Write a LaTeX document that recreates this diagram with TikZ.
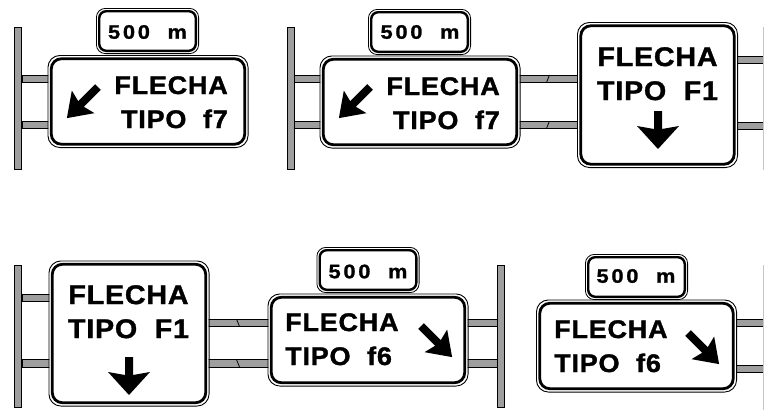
\documentclass[tikz,border=0pt]{standalone}
\usepackage{fontspec}
\newfontfamily\signfont[LetterSpace=3, FakeStretch=1.06, FakeBold=1.3, UprightFont={* Bold}]{Liberation Sans}
\newfontfamily\platefont[LetterSpace=14, FakeStretch=1.12, FakeBold=1.2, UprightFont={* Bold}]{Liberation Sans}
\usetikzlibrary{backgrounds}
\definecolor{acero}{RGB}{158,158,158}
\tikzset{
	cartel/.style={shape=rectangle, draw, fill=white, line width=2.8pt, rounded corners=10pt, inner sep=0pt, preaction={draw=white, line width=6pt}},
	marco/.style={draw, line width=0.9pt, rounded corners=12pt},
	placa/.style={shape=rectangle, draw, fill=white, line width=2.4pt, rounded corners=7pt, inner sep=0pt, minimum width=96.6pt, minimum height=39.6pt, preaction={draw=white, line width=5pt}},
	marcoplaca/.style={draw, line width=0.8pt, rounded corners=9pt},
	poste/.style={shape=rectangle, draw, fill=acero, line width=0.8pt, inner sep=0pt, minimum width=7.2pt, minimum height=142.2pt},
	viga/.style={draw, fill=acero, line width=0.8pt},
	texto/.style={font=\signfont\fontsize{25.5pt}{34pt}\selectfont, inner sep=0pt},
	textoF/.style={font=\signfont\fontsize{27pt}{34pt}\selectfont, inner sep=0pt},
	rotulo/.style={font=\platefont\fontsize{19.5pt}{20pt}\selectfont, inner sep=0pt},
	flechaD/.pic={\fill (-4,0) -- (4,0) -- (4,24) -- (16,21) -- (0,44) -- (-16,21) -- (-4,24) -- cycle;},
	flechaV/.pic={\fill (-4,0) -- (4,0) -- (4,18) -- (21,15) -- (0,38) -- (-21,15) -- (-4,18) -- cycle;}
}
\begin{document}
\begin{tikzpicture}[x=1pt, y=-1pt]
	\useasboundingbox (0,0) rectangle (765,410);
	% Posts:
	\node[poste] (poste1) at (18, 98.5){};
	\node[poste] (poste2) at (290.5, 98.5){};
	\node[poste] (poste4) at (18, 336.5){};
	\node[poste] (poste5) at (501, 336.5){};
	\coordinate (borde) at (763, 0);
	\draw[gray!45, line width=1pt] (763.5, 27) -- (763.5, 170);
	\draw[gray!45, line width=1pt] (763.5, 265) -- (763.5, 410);
	% Distance plates:
	\node[placa] (placa1) at (147.5, 31){};
	\node[placa] (placa2) at (419.5, 32){};
	\node[placa] (placa5) at (368, 270){};
	\node[placa] (placa6) at (636.5, 277){};
	\foreach \i in {1,2,5,6}
		\draw[marcoplaca] ([shift={(-1.6pt,1.6pt)}]placa\i.north west) rectangle ([shift={(1.6pt,-1.6pt)}]placa\i.south east);
	\node[rotulo] (rot1) at (147.5, 32){500~~m};
	\node[rotulo] (rot2) at (420, 32){500~~m};
	\node[rotulo] (rot5) at (368, 271.5){500~~m};
	\node[rotulo] (rot6) at (636, 276){500~~m};
	% Signs:
	\node[cartel, minimum width=193.4pt, minimum height=85.4pt] (cartel1) at (148, 101.5){};
	\node[cartel, minimum width=193.4pt, minimum height=85.4pt] (cartel2) at (420, 102){};
	\node[cartel, minimum width=153.4pt, minimum height=138.4pt] (cartel3) at (657.5, 95){};
	\node[cartel, minimum width=153.4pt, minimum height=138.4pt] (cartel4) at (129, 333.5){};
	\node[cartel, minimum width=193.4pt, minimum height=85.4pt] (cartel5) at (368, 340){};
	\node[cartel, minimum width=193.4pt, minimum height=85.4pt] (cartel6) at (636.5, 346){};
	\foreach \i in {1,...,6}
		\draw[marco] ([shift={(-1.95pt,1.95pt)}]cartel\i.north west) rectangle ([shift={(1.95pt,-1.95pt)}]cartel\i.south east);
	% Texts and arrows:
	\node[texto, align=right, anchor=north east] (txt1) at (228, 76){FLECHA\\TIPO~~f7};
	\node[texto, align=right, anchor=north east] (txt2) at (500, 77){FLECHA\\TIPO~~f7};
	\node[textoF, align=center, anchor=north] (txt3) at (657.5, 47){FLECHA\\TIPO~~F1};
	\node[textoF, align=center, anchor=north] (txt4) at (128.5, 285){FLECHA\\TIPO~~F1};
	\node[texto, align=left, anchor=north west] (txt5) at (285, 313){FLECHA\\TIPO~~f6};
	\node[texto, align=left, anchor=north west] (txt6) at (554, 320){FLECHA\\TIPO~~f6};
	\pic[rotate=-45] at (98, 87){flechaD};
	\pic[rotate=-45] at (370, 87){flechaD};
	\pic at (658, 111){flechaV};
	\pic at (129, 357){flechaV};
	\pic[rotate=45] at (421, 326){flechaD};
	\pic[rotate=45] at (688, 333){flechaD};
	% Beams:
	\begin{scope}[on background layer]
		\draw[viga] (poste1.east |- 0,75) rectangle (cartel1.west |- 0,82.5);
		\draw[viga] (poste1.east |- 0,121) rectangle (cartel1.west |- 0,128.5);
		\draw[viga] (poste2.east |- 0,75) rectangle (cartel2.west |- 0,82.5);
		\draw[viga] (poste2.east |- 0,121) rectangle (cartel2.west |- 0,128.5);
		\draw[viga] (cartel2.east |- 0,75) rectangle (cartel3.west |- 0,82.5);
		\draw[viga] (cartel2.east |- 0,121) rectangle (cartel3.west |- 0,128.5);
		\draw[viga] (cartel3.east |- 0,56) rectangle (borde |- 0,63.5);
		\draw[viga] (cartel3.east |- 0,122) rectangle (borde |- 0,129.5);
		\draw[viga] (poste4.east |- 0,294) rectangle (cartel4.west |- 0,301.5);
		\draw[viga] (poste4.east |- 0,359.5) rectangle (cartel4.west |- 0,367);
		\draw[viga] (cartel4.east |- 0,319) rectangle (cartel5.west |- 0,326.5);
		\draw[viga] (cartel4.east |- 0,359.5) rectangle (cartel5.west |- 0,367);
		\draw[viga] (cartel5.east |- 0,319) rectangle (poste5.west |- 0,326.5);
		\draw[viga] (cartel5.east |- 0,359.5) rectangle (poste5.west |- 0,367);
		\draw[viga] (cartel6.east |- 0,319) rectangle (borde |- 0,326.5);
		\draw[viga] (cartel6.east |- 0,365) rectangle (borde |- 0,372.5);
	\end{scope}
	% Breaks in the long beams:
	\draw[line width=0.8pt] (546.5, 82.5) -- (549.5, 75) (546.5, 128.5) -- (549.5, 121);
	\draw[line width=0.8pt] (236.5, 319) -- (239.5, 326.5) (236.5, 359.5) -- (239.5, 367);
\end{tikzpicture}
\end{document}
